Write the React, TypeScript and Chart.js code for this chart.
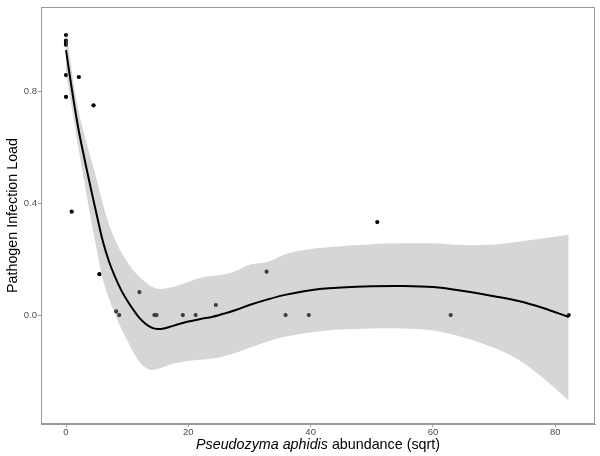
import React, { useEffect, useRef } from "react";
import { Chart, registerables } from "chart.js";

Chart.register(...registerables);

// Observed samples
const obsX = [0, 0, 0, 0, 0, 0, 2.1, 4.5, 0.93, 5.45, 12.0, 8.2, 8.7, 14.45, 14.8, 19.1, 21.2, 24.5, 32.8, 35.9, 39.7, 50.9, 62.9, 82.2];
const obsY = [1.0, 0.98, 0.972, 0.965, 0.857, 0.779, 0.85, 0.749, 0.369, 0.146, 0.082, 0.013, 0.0, 0.0, 0.0, 0.0, 0.0, 0.036, 0.155, 0.0, 0.0, 0.332, 0.0, 0.0];

// Loess fit and confidence band
const fitX = [0, 1, 2, 3, 4, 5, 6, 7, 8, 9, 10, 11, 12, 13, 14, 15, 16, 17, 18, 20, 22, 24, 26, 28, 30, 33, 36, 40, 45, 50, 55, 60, 65, 70, 74, 78, 82.2];
const fitY = [0.946, 0.8, 0.668, 0.56, 0.458, 0.36, 0.265, 0.193, 0.137, 0.09, 0.052, 0.019, -0.01, -0.031, -0.045, -0.05, -0.048, -0.042, -0.035, -0.023, -0.014, -0.006, 0.006, 0.02, 0.036, 0.056, 0.073, 0.089, 0.098, 0.103, 0.104, 0.1, 0.086, 0.067, 0.05, 0.025, -0.007];
const upperY = [1.02, 0.865, 0.735, 0.645, 0.565, 0.485, 0.398, 0.325, 0.27, 0.226, 0.19, 0.16, 0.137, 0.117, 0.101, 0.094, 0.094, 0.098, 0.104, 0.118, 0.133, 0.14, 0.146, 0.16, 0.18, 0.19, 0.218, 0.236, 0.246, 0.253, 0.256, 0.256, 0.25, 0.252, 0.262, 0.274, 0.287];
const lowerY = [0.87, 0.735, 0.6, 0.475, 0.35, 0.235, 0.13, 0.06, 0.004, -0.047, -0.09, -0.133, -0.167, -0.188, -0.196, -0.193, -0.185, -0.177, -0.171, -0.164, -0.16, -0.155, -0.146, -0.133, -0.117, -0.094, -0.077, -0.062, -0.052, -0.048, -0.048, -0.055, -0.08, -0.117, -0.16, -0.225, -0.305];

const xTicks = [0, 20, 40, 60, 80];
const yTicks = [0.0, 0.4, 0.8];

const FONT = "'Liberation Sans', Arial, Helvetica, sans-serif";
const TENSION = 0.35;

const toPts = (xs: number[], ys: number[]) => xs.map((x, i) => ({ x, y: ys[i] }));

const framePlugin = {
  id: "frame",
  afterDraw(chart: any) {
    const { ctx, chartArea } = chart;
    ctx.save();
    ctx.strokeStyle = "#9a9a9a";
    ctx.lineWidth = 1;
    ctx.strokeRect(
      Math.round(chartArea.left) + 0.5,
      Math.round(chartArea.top) + 0.5,
      Math.round(chartArea.right - chartArea.left) - 1,
      Math.round(chartArea.bottom - chartArea.top) - 1
    );
    // x-axis title with italic species name
    const italic = "Pseudozyma aphidis";
    const rest = " abundance (sqrt)";
    ctx.fillStyle = "#000";
    ctx.textBaseline = "alphabetic";
    ctx.textAlign = "left";
    ctx.font = `italic 14.3px ${FONT}`;
    const w1 = ctx.measureText(italic).width;
    ctx.font = `14.3px ${FONT}`;
    const w2 = ctx.measureText(rest).width;
    const cx = (chartArea.left + chartArea.right) / 2;
    const x0 = cx - (w1 + w2) / 2;
    const y = 449;
    ctx.font = `italic 14.3px ${FONT}`;
    ctx.fillText(italic, x0, y);
    ctx.font = `14.3px ${FONT}`;
    ctx.fillText(rest, x0 + w1, y);
    ctx.restore();
  },
};

export default function App() {
  const ref = useRef<HTMLCanvasElement | null>(null);

  useEffect(() => {
    if (!ref.current) return;
    const chart = new Chart(ref.current, {
      type: "scatter",
      data: {
        datasets: [
          {
            label: "fit",
            data: toPts(fitX, fitY),
            showLine: true,
            borderColor: "#000",
            borderWidth: 2,
            pointRadius: 0,
            tension: TENSION,
            fill: false,
            order: 0,
          } as any,
          {
            label: "upper",
            data: toPts(fitX, upperY),
            showLine: true,
            borderWidth: 0,
            borderColor: "rgba(0,0,0,0)",
            backgroundColor: "rgba(153,153,153,0.4)",
            pointRadius: 0,
            tension: TENSION,
            fill: "+1",
            order: 1,
          } as any,
          {
            label: "lower",
            data: toPts(fitX, lowerY),
            showLine: true,
            borderWidth: 0,
            borderColor: "rgba(0,0,0,0)",
            pointRadius: 0,
            tension: TENSION,
            fill: false,
            order: 2,
          } as any,
          {
            label: "obs",
            data: toPts(obsX, obsY),
            showLine: false,
            pointRadius: 2.1,
            pointBackgroundColor: "#000",
            pointBorderWidth: 0,
            order: 3,
          } as any,
        ],
      },
      options: {
        responsive: false,
        animation: false,
        layout: { padding: { left: 0, right: 5, top: 7, bottom: 0 } },
        plugins: {
          legend: { display: false },
          tooltip: { enabled: false },
        },
        scales: {
          x: {
            type: "linear",
            min: -4.09,
            max: 86.5,
            afterFit(scale: any) {
              scale.height = 32;
            },
            afterBuildTicks(scale: any) {
              scale.ticks = xTicks.map((v) => ({ value: v }));
            },
            grid: {
              display: true,
              drawOnChartArea: false,
              drawTicks: true,
              tickLength: 3,
              color: "#9a9a9a",
            },
            border: { display: true, color: "#9a9a9a" },
            ticks: {
              padding: 0,
              color: "#4d4d4d",
              font: { family: FONT, size: 9.5 },
              maxRotation: 0,
              callback: (v: any) => String(v),
            },
          },
          y: {
            type: "linear",
            min: -0.389,
            max: 1.1,
            afterFit(scale: any) {
              scale.width = 41;
            },
            afterBuildTicks(scale: any) {
              scale.ticks = yTicks.map((v) => ({ value: v }));
            },
            grid: {
              display: true,
              drawOnChartArea: false,
              drawTicks: true,
              tickLength: 3,
              color: "#9a9a9a",
            },
            border: { display: true, color: "#9a9a9a" },
            ticks: {
              padding: 1,
              color: "#4d4d4d",
              font: { family: FONT, size: 9.5 },
              callback: (v: any) => Number(v).toFixed(1),
            },
            title: {
              display: true,
              text: "Pathogen Infection Load",
              color: "#000",
              font: { family: FONT, size: 14.3 },
              padding: { top: 4, bottom: 0 },
            },
          },
        },
      },
      plugins: [framePlugin],
    });
    return () => chart.destroy();
  }, []);

  return (
    <div style={{ position: "fixed", left: 0, top: 0, width: 600, height: 456, background: "#fff" }}>
      <canvas ref={ref} width={600} height={456} style={{ display: "block" }} />
    </div>
  );
}
